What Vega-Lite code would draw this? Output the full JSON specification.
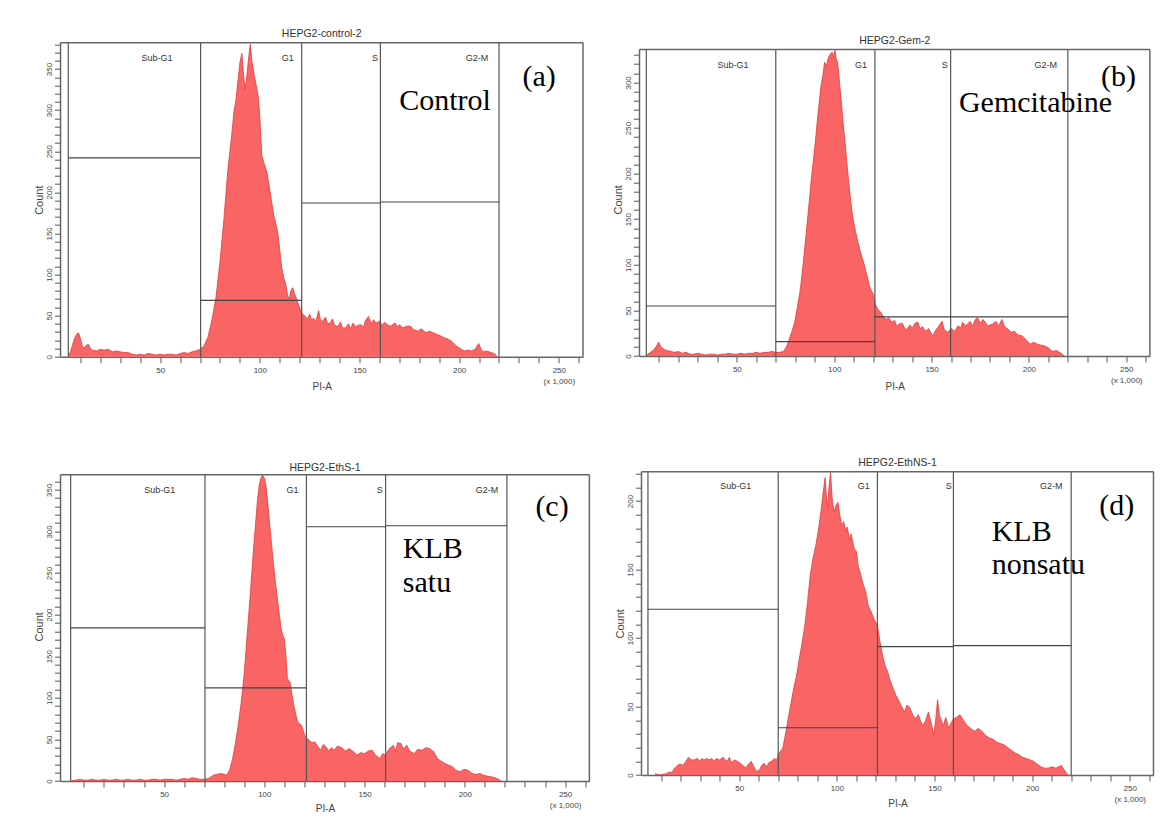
{
"$schema": "https://vega.github.io/schema/vega-lite/v6.json",
"background": "white",
"padding": {"left": 32.5, "top": 28.7, "right": 8, "bottom": 5},
"datasets": {
"hist": [
{"p":"a","x":4,"y":2},{"p":"a","x":5,"y":6},{"p":"a","x":6,"y":14},{"p":"a","x":7,"y":22},{"p":"a","x":8,"y":27},{"p":"a","x":9,"y":29},{"p":"a","x":10,"y":22},{"p":"a","x":11,"y":12},{"p":"a","x":12,"y":11},{"p":"a","x":13,"y":14},{"p":"a","x":14,"y":15},{"p":"a","x":15,"y":10},{"p":"a","x":16,"y":8},{"p":"a","x":18,"y":7},{"p":"a","x":20,"y":9},{"p":"a","x":22,"y":8},{"p":"a","x":24,"y":9},{"p":"a","x":26,"y":6},{"p":"a","x":28,"y":7},{"p":"a","x":30,"y":6},{"p":"a","x":32,"y":5},{"p":"a","x":34,"y":5},{"p":"a","x":36,"y":3},{"p":"a","x":38,"y":2},{"p":"a","x":40,"y":3},{"p":"a","x":42,"y":2},{"p":"a","x":44,"y":4},{"p":"a","x":46,"y":3},{"p":"a","x":48,"y":2},{"p":"a","x":50,"y":3},{"p":"a","x":52,"y":2},{"p":"a","x":54,"y":3},{"p":"a","x":56,"y":3},{"p":"a","x":58,"y":2},{"p":"a","x":60,"y":4},{"p":"a","x":62,"y":5},{"p":"a","x":64,"y":4},{"p":"a","x":66,"y":6},{"p":"a","x":68,"y":7},{"p":"a","x":70,"y":9},{"p":"a","x":72,"y":13},{"p":"a","x":74,"y":24},{"p":"a","x":76,"y":45},{"p":"a","x":78,"y":72},{"p":"a","x":80,"y":115},{"p":"a","x":82,"y":168},{"p":"a","x":84,"y":228},{"p":"a","x":86,"y":272},{"p":"a","x":87,"y":298},{"p":"a","x":88,"y":312},{"p":"a","x":89,"y":335},{"p":"a","x":90,"y":358},{"p":"a","x":91,"y":369},{"p":"a","x":92,"y":338},{"p":"a","x":92.6,"y":325},{"p":"a","x":93.5,"y":342},{"p":"a","x":94.5,"y":366},{"p":"a","x":95.2,"y":380},{"p":"a","x":96,"y":360},{"p":"a","x":97.3,"y":341},{"p":"a","x":98.5,"y":326},{"p":"a","x":99.3,"y":315},{"p":"a","x":100,"y":292},{"p":"a","x":101,"y":245},{"p":"a","x":102,"y":236},{"p":"a","x":103.6,"y":224},{"p":"a","x":105,"y":203},{"p":"a","x":106,"y":187},{"p":"a","x":107,"y":172},{"p":"a","x":108,"y":162},{"p":"a","x":109,"y":151},{"p":"a","x":110,"y":130},{"p":"a","x":111,"y":108},{"p":"a","x":112,"y":96},{"p":"a","x":113,"y":88},{"p":"a","x":114,"y":74},{"p":"a","x":114.8,"y":70},{"p":"a","x":115.5,"y":80},{"p":"a","x":116.5,"y":84},{"p":"a","x":117.5,"y":76},{"p":"a","x":118.5,"y":70},{"p":"a","x":119,"y":66},{"p":"a","x":120,"y":60},{"p":"a","x":120.7,"y":54},{"p":"a","x":122.3,"y":50},{"p":"a","x":124,"y":46},{"p":"a","x":125,"y":52},{"p":"a","x":126,"y":44},{"p":"a","x":127,"y":47},{"p":"a","x":128,"y":42},{"p":"a","x":129.5,"y":56},{"p":"a","x":130.5,"y":44},{"p":"a","x":131.4,"y":43},{"p":"a","x":133,"y":48},{"p":"a","x":134,"y":40},{"p":"a","x":135.3,"y":41},{"p":"a","x":136.5,"y":46},{"p":"a","x":137.5,"y":38},{"p":"a","x":139.1,"y":37},{"p":"a","x":140.5,"y":42},{"p":"a","x":141.5,"y":35},{"p":"a","x":143,"y":35},{"p":"a","x":144.5,"y":40},{"p":"a","x":145.5,"y":34},{"p":"a","x":146.8,"y":41},{"p":"a","x":148,"y":36},{"p":"a","x":149,"y":38},{"p":"a","x":150.6,"y":39},{"p":"a","x":152,"y":36},{"p":"a","x":153,"y":44},{"p":"a","x":154.5,"y":49},{"p":"a","x":156,"y":40},{"p":"a","x":157,"y":45},{"p":"a","x":158.3,"y":41},{"p":"a","x":160.2,"y":43},{"p":"a","x":161.5,"y":38},{"p":"a","x":162.5,"y":42},{"p":"a","x":164.1,"y":39},{"p":"a","x":165.5,"y":37},{"p":"a","x":167.9,"y":41},{"p":"a","x":169,"y":36},{"p":"a","x":170,"y":39},{"p":"a","x":171.8,"y":35},{"p":"a","x":173.5,"y":37},{"p":"a","x":175.6,"y":37},{"p":"a","x":177,"y":33},{"p":"a","x":179.4,"y":31},{"p":"a","x":181,"y":34},{"p":"a","x":183.3,"y":29},{"p":"a","x":185,"y":31},{"p":"a","x":187.1,"y":29},{"p":"a","x":189,"y":27},{"p":"a","x":191,"y":25},{"p":"a","x":192.5,"y":23},{"p":"a","x":194.8,"y":21},{"p":"a","x":196.5,"y":18},{"p":"a","x":198.6,"y":13},{"p":"a","x":200.5,"y":10},{"p":"a","x":202.5,"y":7},{"p":"a","x":204.5,"y":8},{"p":"a","x":206.3,"y":7},{"p":"a","x":208,"y":9},{"p":"a","x":209.8,"y":16},{"p":"a","x":211,"y":9},{"p":"a","x":212.1,"y":6},{"p":"a","x":214,"y":7},{"p":"a","x":215.9,"y":5},{"p":"a","x":217.5,"y":4},{"p":"a","x":218.8,"y":1},{"p":"a","x":219.2,"y":0},
{"p":"b","x":3.5,"y":1},{"p":"b","x":5,"y":3},{"p":"b","x":7,"y":6},{"p":"b","x":8.5,"y":10},{"p":"b","x":9.8,"y":15},{"p":"b","x":11,"y":10},{"p":"b","x":12.7,"y":7},{"p":"b","x":14,"y":6},{"p":"b","x":16,"y":5},{"p":"b","x":18,"y":4},{"p":"b","x":20,"y":5},{"p":"b","x":22,"y":3},{"p":"b","x":24,"y":4},{"p":"b","x":26,"y":2},{"p":"b","x":28,"y":2},{"p":"b","x":30,"y":3},{"p":"b","x":32,"y":2},{"p":"b","x":34,"y":1},{"p":"b","x":36,"y":2},{"p":"b","x":38,"y":2},{"p":"b","x":40,"y":1},{"p":"b","x":42,"y":2},{"p":"b","x":44,"y":2},{"p":"b","x":46,"y":3},{"p":"b","x":48,"y":2},{"p":"b","x":50,"y":2},{"p":"b","x":52,"y":3},{"p":"b","x":54,"y":2},{"p":"b","x":56,"y":3},{"p":"b","x":58,"y":3},{"p":"b","x":60,"y":4},{"p":"b","x":62,"y":3},{"p":"b","x":64,"y":4},{"p":"b","x":66,"y":4},{"p":"b","x":68,"y":5},{"p":"b","x":70,"y":4},{"p":"b","x":72,"y":4},{"p":"b","x":74,"y":5},{"p":"b","x":75.5,"y":10},{"p":"b","x":76.9,"y":18},{"p":"b","x":78.3,"y":27},{"p":"b","x":79.7,"y":37},{"p":"b","x":81,"y":52},{"p":"b","x":82.6,"y":73},{"p":"b","x":84,"y":100},{"p":"b","x":85.5,"y":132},{"p":"b","x":87,"y":165},{"p":"b","x":88.4,"y":197},{"p":"b","x":90.3,"y":234},{"p":"b","x":91.5,"y":262},{"p":"b","x":93.2,"y":296},{"p":"b","x":94,"y":305},{"p":"b","x":95.1,"y":322},{"p":"b","x":96,"y":318},{"p":"b","x":97,"y":327},{"p":"b","x":98,"y":331},{"p":"b","x":98.9,"y":333},{"p":"b","x":99.6,"y":328},{"p":"b","x":100.4,"y":335},{"p":"b","x":101,"y":326},{"p":"b","x":101.8,"y":322},{"p":"b","x":102.7,"y":300},{"p":"b","x":103.7,"y":278},{"p":"b","x":104.6,"y":255},{"p":"b","x":105.6,"y":234},{"p":"b","x":106.5,"y":212},{"p":"b","x":107.5,"y":190},{"p":"b","x":108.5,"y":170},{"p":"b","x":109.4,"y":154},{"p":"b","x":110.8,"y":138},{"p":"b","x":112.3,"y":124},{"p":"b","x":113.7,"y":112},{"p":"b","x":115.2,"y":102},{"p":"b","x":116.6,"y":90},{"p":"b","x":118.1,"y":77},{"p":"b","x":119,"y":72},{"p":"b","x":120,"y":68},{"p":"b","x":121,"y":58},{"p":"b","x":121.9,"y":53},{"p":"b","x":123,"y":50},{"p":"b","x":123.8,"y":48},{"p":"b","x":125,"y":44},{"p":"b","x":126.7,"y":40},{"p":"b","x":128,"y":42},{"p":"b","x":129.6,"y":37},{"p":"b","x":131,"y":39},{"p":"b","x":132,"y":33},{"p":"b","x":133.4,"y":35},{"p":"b","x":135,"y":36},{"p":"b","x":136,"y":31},{"p":"b","x":137.2,"y":29},{"p":"b","x":139,"y":34},{"p":"b","x":140,"y":30},{"p":"b","x":141.5,"y":36},{"p":"b","x":143,"y":37},{"p":"b","x":144,"y":30},{"p":"b","x":145.5,"y":32},{"p":"b","x":146.8,"y":27},{"p":"b","x":148.5,"y":30},{"p":"b","x":150.6,"y":22},{"p":"b","x":152,"y":28},{"p":"b","x":153.5,"y":32},{"p":"b","x":155.4,"y":38},{"p":"b","x":156.5,"y":29},{"p":"b","x":158.3,"y":26},{"p":"b","x":160,"y":30},{"p":"b","x":162.1,"y":27},{"p":"b","x":163.5,"y":33},{"p":"b","x":165,"y":31},{"p":"b","x":166,"y":37},{"p":"b","x":167.5,"y":33},{"p":"b","x":169.8,"y":38},{"p":"b","x":171,"y":33},{"p":"b","x":172.5,"y":40},{"p":"b","x":173.6,"y":42},{"p":"b","x":175,"y":36},{"p":"b","x":176.5,"y":40},{"p":"b","x":177.5,"y":37},{"p":"b","x":179,"y":33},{"p":"b","x":181.3,"y":35},{"p":"b","x":183,"y":38},{"p":"b","x":184.5,"y":33},{"p":"b","x":186.1,"y":40},{"p":"b","x":187.5,"y":32},{"p":"b","x":189,"y":30},{"p":"b","x":190.9,"y":26},{"p":"b","x":192.5,"y":27},{"p":"b","x":194.5,"y":23},{"p":"b","x":196.6,"y":22},{"p":"b","x":198.5,"y":18},{"p":"b","x":200.5,"y":13},{"p":"b","x":202.5,"y":15},{"p":"b","x":204.3,"y":13},{"p":"b","x":206,"y":12},{"p":"b","x":208.1,"y":11},{"p":"b","x":210,"y":9},{"p":"b","x":212,"y":5},{"p":"b","x":214,"y":6},{"p":"b","x":215.8,"y":4},{"p":"b","x":217.7,"y":1},{"p":"b","x":218.3,"y":0},
{"p":"c","x":3.5,"y":0},{"p":"c","x":6,"y":1},{"p":"c","x":8,"y":2},{"p":"c","x":10,"y":1},{"p":"c","x":12,"y":1},{"p":"c","x":14,"y":2},{"p":"c","x":16,"y":1},{"p":"c","x":18,"y":1},{"p":"c","x":20,"y":2},{"p":"c","x":22,"y":1},{"p":"c","x":24,"y":1},{"p":"c","x":26,"y":2},{"p":"c","x":28,"y":1},{"p":"c","x":30,"y":1},{"p":"c","x":32,"y":2},{"p":"c","x":34,"y":1},{"p":"c","x":36,"y":1},{"p":"c","x":38,"y":2},{"p":"c","x":40,"y":1},{"p":"c","x":42,"y":1},{"p":"c","x":44,"y":2},{"p":"c","x":46,"y":2},{"p":"c","x":48,"y":1},{"p":"c","x":50,"y":2},{"p":"c","x":52,"y":2},{"p":"c","x":54,"y":2},{"p":"c","x":56,"y":1},{"p":"c","x":58,"y":2},{"p":"c","x":60,"y":3},{"p":"c","x":62,"y":2},{"p":"c","x":64,"y":4},{"p":"c","x":66,"y":3},{"p":"c","x":68,"y":2},{"p":"c","x":70.4,"y":2},{"p":"c","x":72,"y":3},{"p":"c","x":73.5,"y":5},{"p":"c","x":74.6,"y":7},{"p":"c","x":76.5,"y":8},{"p":"c","x":78.5,"y":9},{"p":"c","x":80,"y":8},{"p":"c","x":81.3,"y":7},{"p":"c","x":82.8,"y":14},{"p":"c","x":84.2,"y":27},{"p":"c","x":85.5,"y":44},{"p":"c","x":87,"y":67},{"p":"c","x":88.5,"y":95},{"p":"c","x":89.9,"y":127},{"p":"c","x":90.8,"y":155},{"p":"c","x":91.8,"y":187},{"p":"c","x":92.8,"y":218},{"p":"c","x":93.7,"y":248},{"p":"c","x":94.6,"y":278},{"p":"c","x":95.6,"y":308},{"p":"c","x":96.5,"y":335},{"p":"c","x":97.5,"y":356},{"p":"c","x":98.3,"y":364},{"p":"c","x":99.1,"y":368},{"p":"c","x":100,"y":364},{"p":"c","x":100.8,"y":356},{"p":"c","x":101.8,"y":332},{"p":"c","x":102.7,"y":308},{"p":"c","x":103.6,"y":285},{"p":"c","x":104.6,"y":260},{"p":"c","x":105.5,"y":240},{"p":"c","x":106.5,"y":220},{"p":"c","x":107.5,"y":200},{"p":"c","x":108.4,"y":183},{"p":"c","x":109.2,"y":175},{"p":"c","x":110,"y":171},{"p":"c","x":110.8,"y":150},{"p":"c","x":111.5,"y":123},{"p":"c","x":112.8,"y":119},{"p":"c","x":113.8,"y":104},{"p":"c","x":114.7,"y":91},{"p":"c","x":115.7,"y":80},{"p":"c","x":116.6,"y":71},{"p":"c","x":117.5,"y":69},{"p":"c","x":118.5,"y":67},{"p":"c","x":119.5,"y":60},{"p":"c","x":120.4,"y":53},{"p":"c","x":121.4,"y":51},{"p":"c","x":122.4,"y":49},{"p":"c","x":123.8,"y":46},{"p":"c","x":125.2,"y":47},{"p":"c","x":126.5,"y":42},{"p":"c","x":128.1,"y":37},{"p":"c","x":129.5,"y":44},{"p":"c","x":130.9,"y":41},{"p":"c","x":132,"y":36},{"p":"c","x":133.5,"y":40},{"p":"c","x":134.8,"y":37},{"p":"c","x":136.5,"y":42},{"p":"c","x":138.6,"y":40},{"p":"c","x":140.5,"y":36},{"p":"c","x":142.4,"y":39},{"p":"c","x":144.5,"y":35},{"p":"c","x":146.2,"y":31},{"p":"c","x":148,"y":34},{"p":"c","x":150,"y":33},{"p":"c","x":152,"y":36},{"p":"c","x":153.8,"y":37},{"p":"c","x":155.5,"y":31},{"p":"c","x":157.7,"y":27},{"p":"c","x":159,"y":33},{"p":"c","x":160.5,"y":31},{"p":"c","x":162,"y":38},{"p":"c","x":164.3,"y":43},{"p":"c","x":165.5,"y":36},{"p":"c","x":166.5,"y":46},{"p":"c","x":168.2,"y":45},{"p":"c","x":169.5,"y":38},{"p":"c","x":171,"y":43},{"p":"c","x":172.5,"y":36},{"p":"c","x":174.8,"y":33},{"p":"c","x":176.5,"y":38},{"p":"c","x":178.7,"y":37},{"p":"c","x":180.5,"y":40},{"p":"c","x":182.5,"y":39},{"p":"c","x":184.5,"y":35},{"p":"c","x":186.3,"y":27},{"p":"c","x":188,"y":24},{"p":"c","x":190.1,"y":21},{"p":"c","x":192,"y":19},{"p":"c","x":193.9,"y":17},{"p":"c","x":195.5,"y":13},{"p":"c","x":197.7,"y":11},{"p":"c","x":199.5,"y":14},{"p":"c","x":201.6,"y":13},{"p":"c","x":203.5,"y":9},{"p":"c","x":205.4,"y":8},{"p":"c","x":207.5,"y":9},{"p":"c","x":209.2,"y":7},{"p":"c","x":211,"y":6},{"p":"c","x":213,"y":5},{"p":"c","x":215,"y":4},{"p":"c","x":216.8,"y":2},{"p":"c","x":218,"y":0},
{"p":"d","x":7,"y":1},{"p":"d","x":9,"y":0},{"p":"d","x":12.8,"y":1},{"p":"d","x":14,"y":2},{"p":"d","x":15.6,"y":2},{"p":"d","x":17,"y":5},{"p":"d","x":18.4,"y":7},{"p":"d","x":19.8,"y":8},{"p":"d","x":21.3,"y":7},{"p":"d","x":22.7,"y":10},{"p":"d","x":24.1,"y":13},{"p":"d","x":25.5,"y":11},{"p":"d","x":26.9,"y":11},{"p":"d","x":28.5,"y":12},{"p":"d","x":30,"y":10},{"p":"d","x":30.7,"y":12},{"p":"d","x":32,"y":11},{"p":"d","x":33.5,"y":12},{"p":"d","x":34.5,"y":11},{"p":"d","x":36,"y":12},{"p":"d","x":37,"y":10},{"p":"d","x":38.3,"y":12},{"p":"d","x":40,"y":11},{"p":"d","x":41.7,"y":13},{"p":"d","x":42.8,"y":11},{"p":"d","x":43.9,"y":10},{"p":"d","x":45,"y":13},{"p":"d","x":46,"y":9},{"p":"d","x":47.7,"y":11},{"p":"d","x":49,"y":10},{"p":"d","x":50.5,"y":8.5},{"p":"d","x":52,"y":7},{"p":"d","x":53.4,"y":5},{"p":"d","x":54.8,"y":8},{"p":"d","x":56.2,"y":10},{"p":"d","x":57.5,"y":6},{"p":"d","x":59,"y":2.5},{"p":"d","x":60.5,"y":4},{"p":"d","x":61.5,"y":7},{"p":"d","x":62.8,"y":8.5},{"p":"d","x":64,"y":6},{"p":"d","x":65.2,"y":9},{"p":"d","x":66.6,"y":10},{"p":"d","x":68,"y":12},{"p":"d","x":69.3,"y":11},{"p":"d","x":70,"y":15},{"p":"d","x":71,"y":17},{"p":"d","x":72.3,"y":19.5},{"p":"d","x":73.5,"y":28},{"p":"d","x":75.1,"y":41},{"p":"d","x":76.5,"y":52},{"p":"d","x":77.9,"y":63},{"p":"d","x":79.3,"y":72},{"p":"d","x":80.8,"y":85},{"p":"d","x":82.2,"y":96},{"p":"d","x":83.6,"y":109},{"p":"d","x":85,"y":126},{"p":"d","x":86.4,"y":146},{"p":"d","x":87.8,"y":158},{"p":"d","x":89.3,"y":168},{"p":"d","x":90.7,"y":180},{"p":"d","x":92.1,"y":195},{"p":"d","x":93,"y":206},{"p":"d","x":94,"y":217},{"p":"d","x":94.6,"y":205},{"p":"d","x":95.3,"y":195},{"p":"d","x":96,"y":210},{"p":"d","x":96.8,"y":221},{"p":"d","x":97.7,"y":200},{"p":"d","x":98.7,"y":192},{"p":"d","x":99.6,"y":197},{"p":"d","x":100.6,"y":199},{"p":"d","x":101.5,"y":190},{"p":"d","x":102.5,"y":182},{"p":"d","x":103.5,"y":185},{"p":"d","x":104.5,"y":178},{"p":"d","x":105.3,"y":181},{"p":"d","x":106.5,"y":172},{"p":"d","x":107.3,"y":176},{"p":"d","x":108.2,"y":170},{"p":"d","x":109,"y":165},{"p":"d","x":110.1,"y":163},{"p":"d","x":111,"y":152},{"p":"d","x":111.9,"y":148},{"p":"d","x":113.3,"y":140},{"p":"d","x":114.8,"y":134},{"p":"d","x":116,"y":124},{"p":"d","x":117.6,"y":119},{"p":"d","x":119,"y":114},{"p":"d","x":120.8,"y":109},{"p":"d","x":122,"y":98},{"p":"d","x":123.3,"y":88},{"p":"d","x":124.7,"y":80},{"p":"d","x":126.1,"y":75},{"p":"d","x":127.5,"y":68},{"p":"d","x":128.9,"y":63},{"p":"d","x":130.3,"y":58},{"p":"d","x":131.8,"y":54},{"p":"d","x":133.2,"y":50},{"p":"d","x":134.6,"y":46},{"p":"d","x":136,"y":51},{"p":"d","x":137.4,"y":49},{"p":"d","x":138.8,"y":44},{"p":"d","x":140.3,"y":41},{"p":"d","x":141.7,"y":44},{"p":"d","x":143,"y":39},{"p":"d","x":144.1,"y":36},{"p":"d","x":145.5,"y":40},{"p":"d","x":146.9,"y":46},{"p":"d","x":148.3,"y":38},{"p":"d","x":149.7,"y":29},{"p":"d","x":150.6,"y":40},{"p":"d","x":151.6,"y":55},{"p":"d","x":152.5,"y":44},{"p":"d","x":153.5,"y":40},{"p":"d","x":154.5,"y":36},{"p":"d","x":155.8,"y":42},{"p":"d","x":157.3,"y":34},{"p":"d","x":158.5,"y":38},{"p":"d","x":159.7,"y":41},{"p":"d","x":161.3,"y":42},{"p":"d","x":163,"y":44},{"p":"d","x":164.8,"y":40},{"p":"d","x":166.7,"y":36},{"p":"d","x":168.5,"y":34},{"p":"d","x":170.5,"y":32},{"p":"d","x":172.4,"y":34},{"p":"d","x":174.3,"y":32},{"p":"d","x":176,"y":29},{"p":"d","x":178.1,"y":27},{"p":"d","x":180,"y":26},{"p":"d","x":181.8,"y":24},{"p":"d","x":183.7,"y":23},{"p":"d","x":185.6,"y":22},{"p":"d","x":187.5,"y":20},{"p":"d","x":189.4,"y":18},{"p":"d","x":191.3,"y":16},{"p":"d","x":193.2,"y":15},{"p":"d","x":195,"y":13},{"p":"d","x":197,"y":12},{"p":"d","x":199,"y":11},{"p":"d","x":200.7,"y":10},{"p":"d","x":202.5,"y":8},{"p":"d","x":204.5,"y":6},{"p":"d","x":206.5,"y":5},{"p":"d","x":208.3,"y":5},{"p":"d","x":210,"y":6},{"p":"d","x":212.1,"y":5},{"p":"d","x":213.5,"y":6},{"p":"d","x":214.9,"y":7},{"p":"d","x":216.3,"y":4},{"p":"d","x":217.7,"y":1},{"p":"d","x":218.5,"y":0}
],
"gates": [
{"p":"a","g":"Sub-G1","lo":3.9,"hi":70.3,"h":242},{"p":"a","g":"G1","lo":70.3,"hi":121,"h":68.5},{"p":"a","g":"S","lo":121,"hi":160.5,"h":187},{"p":"a","g":"G2-M","lo":160.5,"hi":220,"h":188.2},
{"p":"b","g":"Sub-G1","lo":3.5,"hi":70,"h":54.8},{"p":"b","g":"G1","lo":70,"hi":120.9,"h":15.7},{"p":"b","g":"S","lo":120.9,"hi":159.8,"h":43},{"p":"b","g":"G2-M","lo":159.8,"hi":220,"h":43},
{"p":"c","g":"Sub-G1","lo":3.4,"hi":70.4,"h":184},{"p":"c","g":"G1","lo":70.4,"hi":121,"h":112},{"p":"c","g":"S","lo":121,"hi":160.5,"h":305.6},{"p":"c","g":"G2-M","lo":160.5,"hi":221,"h":306.8},
{"p":"d","g":"Sub-G1","lo":3.3,"hi":70,"h":121},{"p":"d","g":"G1","lo":70,"hi":120.8,"h":34.5},{"p":"d","g":"S","lo":120.8,"hi":159.7,"h":93.7},{"p":"d","g":"G2-M","lo":159.7,"hi":220,"h":94.4}
],
"vl": [
{"p":"a","x":3.9},{"p":"a","x":70.3},{"p":"a","x":121},{"p":"a","x":160.5},{"p":"a","x":220},
{"p":"b","x":3.5},{"p":"b","x":70},{"p":"b","x":120.9},{"p":"b","x":159.8},{"p":"b","x":220},
{"p":"c","x":3.4},{"p":"c","x":70.4},{"p":"c","x":121},{"p":"c","x":160.5},{"p":"c","x":221},
{"p":"d","x":3.3},{"p":"d","x":70},{"p":"d","x":120.8},{"p":"d","x":159.7},{"p":"d","x":220}
],
"labels": [
{"p":"a","t":"Sub-G1","x":48.4,"y":360},{"p":"a","t":"G1","x":114,"y":360},{"p":"a","t":"S","x":157.8,"y":360},{"p":"a","t":"G2-M","x":209,"y":360},
{"p":"b","t":"Sub-G1","x":48,"y":315.9},{"p":"b","t":"G1","x":113.8,"y":315.9},{"p":"b","t":"S","x":156.8,"y":315.9},{"p":"b","t":"G2-M","x":208.7,"y":315.9},
{"p":"c","t":"Sub-G1","x":47.9,"y":345.9},{"p":"c","t":"G1","x":114.1,"y":345.9},{"p":"c","t":"S","x":157.6,"y":345.9},{"p":"c","t":"G2-M","x":211.1,"y":345.9},
{"p":"d","t":"Sub-G1","x":48.3,"y":208.6},{"p":"d","t":"G1","x":113.8,"y":208.6},{"p":"d","t":"S","x":157.3,"y":208.6},{"p":"d","t":"G2-M","x":209.8,"y":208.6}
],
"notes": [
{"p":"a","al":"c","t":"(a)","x":240.1,"y":329.7},{"p":"a","al":"c","t":"Control","x":192.9,"y":300.1},
{"p":"b","al":"c","t":"(b)","x":246,"y":296},{"p":"b","al":"c","t":"Gemcitabine","x":203.4,"y":267.5},
{"p":"c","al":"c","t":"(c)","x":243.5,"y":318.9},{"p":"c","al":"l","t":"KLB","x":169.1,"y":267.7},{"p":"c","al":"l","t":"satu","x":169.1,"y":227.5},
{"p":"d","al":"c","t":"(d)","x":243.3,"y":189.8},{"p":"d","al":"l","t":"KLB","x":179.3,"y":170.8},{"p":"d","al":"l","t":"nonsatu","x":179.3,"y":146.5}
]
},
"spacing": 66,
"vconcat": [
{"hconcat": [
{"width": 522.5, "height": 314,
 "title": {"text": "HEPG2-control-2", "offset": 2.25},
 "layer": [
  {"data": {"name": "hist"}, "transform": [{"filter": "datum.p == 'a'"}],
   "mark": {"type": "area", "fill": "#F96464", "opacity": 1, "fillOpacity": 1, "line": {"color": "#E03C3C", "strokeWidth": 0.8}},
   "encoding": {
    "x": {"field": "x", "type": "quantitative", "scale": {"domain": [0, 262.144], "nice": false, "zero": false},
      "axis": {"title": "PI-A", "titleY": 32.9, "format": "d", "tickCount": 500, "labelOverlap": false, "labelFlush": false, "values": [10,20,30,40,50,60,70,80,90,100,110,120,130,140,150,160,170,180,190,200,210,220,230,240,250,260],
        "labelExpr": "datum.value == 250 ? ['250', '(x 1,000)'] : (datum.value % 50 == 0 ? datum.label : '')"}},
    "y": {"field": "y", "type": "quantitative", "scale": {"domain": [0, 382], "nice": false},
      "axis": {"title": "Count", "format": "d", "tickCount": 500, "labelOverlap": false, "labelFlush": false, "values": [0,10,20,30,40,50,60,70,80,90,100,110,120,130,140,150,160,170,180,190,200,210,220,230,240,250,260,270,280,290,300,310,320,330,340,350,360,370,380],
        "labelExpr": "datum.value % 50 == 0 ? datum.label : ''"}}}},
  {"data": {"name": "vl"}, "transform": [{"filter": "datum.p == 'a'"}], "mark": {"type": "rule", "color": "#555", "strokeWidth": 1.2},
   "encoding": {"x": {"field": "x", "type": "quantitative"}, "y": {"datum": 0}, "y2": {"datum": 382}}},
  {"data": {"name": "gates"}, "transform": [{"filter": "datum.p == 'a'"}], "mark": {"type": "rule", "color": "#444", "strokeWidth": 1.2},
   "encoding": {"x": {"field": "lo", "type": "quantitative"}, "x2": {"field": "hi"}, "y": {"field": "h", "type": "quantitative"}}},
  {"data": {"values": [{}]}, "mark": {"type": "rule", "color": "#666", "strokeWidth": 1.5},
   "encoding": {"x": {"datum": 0}, "x2": {"datum": 262.144}, "y": {"datum": 382}}},
  {"data": {"values": [{}]}, "mark": {"type": "rule", "color": "#666", "strokeWidth": 1.5},
   "encoding": {"x": {"datum": 0}, "y": {"datum": 0}, "y2": {"datum": 382}}},
  {"data": {"values": [{}]}, "mark": {"type": "rule", "color": "#666", "strokeWidth": 1.5},
   "encoding": {"x": {"datum": 262.144}, "y": {"datum": 0}, "y2": {"datum": 382}}},
  {"data": {"name": "labels"}, "transform": [{"filter": "datum.p == 'a'"}], "mark": {"type": "text", "fontSize": 9, "color": "#333", "baseline": "alphabetic", "align": "center"},
   "encoding": {"x": {"field": "x", "type": "quantitative"}, "y": {"field": "y", "type": "quantitative"}, "text": {"field": "t"}}},
  {"data": {"name": "notes"}, "transform": [{"filter": "datum.p == 'a' && datum.al == 'c'"}], "mark": {"type": "text", "font": "Liberation Serif", "fontSize": 30, "color": "#000", "baseline": "alphabetic", "align": "center"},
   "encoding": {"x": {"field": "x", "type": "quantitative"}, "y": {"field": "y", "type": "quantitative"}, "text": {"field": "t"}}}
 ]},
{"width": 510.4, "height": 313.3,
 "title": {"text": "HEPG2-Gem-2", "offset": -3.8},
 "layer": [
  {"data": {"name": "hist"}, "transform": [{"filter": "datum.p == 'b'"}],
   "mark": {"type": "area", "fill": "#F96464", "opacity": 1, "fillOpacity": 1, "line": {"color": "#E03C3C", "strokeWidth": 0.8}},
   "encoding": {
    "x": {"field": "x", "type": "quantitative", "scale": {"domain": [0, 262.144], "nice": false, "zero": false},
      "axis": {"title": "PI-A", "titleY": 33.6, "format": "d", "tickCount": 500, "labelOverlap": false, "labelFlush": false, "values": [10,20,30,40,50,60,70,80,90,100,110,120,130,140,150,160,170,180,190,200,210,220,230,240,250,260],
        "labelExpr": "datum.value == 250 ? ['250', '(x 1,000)'] : (datum.value % 50 == 0 ? datum.label : '')"}},
    "y": {"field": "y", "type": "quantitative", "scale": {"domain": [0, 343.5], "nice": false},
      "axis": {"title": "Count", "format": "d", "tickCount": 500, "labelOverlap": false, "labelFlush": false, "values": [0,10,20,30,40,50,60,70,80,90,100,110,120,130,140,150,160,170,180,190,200,210,220,230,240,250,260,270,280,290,300,310,320,330],
        "labelExpr": "datum.value % 50 == 0 ? datum.label : ''"}}}},
  {"data": {"name": "vl"}, "transform": [{"filter": "datum.p == 'b'"}], "mark": {"type": "rule", "color": "#555", "strokeWidth": 1.2},
   "encoding": {"x": {"field": "x", "type": "quantitative"}, "y": {"datum": 0}, "y2": {"datum": 336}}},
  {"data": {"name": "gates"}, "transform": [{"filter": "datum.p == 'b'"}], "mark": {"type": "rule", "color": "#444", "strokeWidth": 1.2},
   "encoding": {"x": {"field": "lo", "type": "quantitative"}, "x2": {"field": "hi"}, "y": {"field": "h", "type": "quantitative"}}},
  {"data": {"values": [{}]}, "mark": {"type": "rule", "color": "#666", "strokeWidth": 1.5},
   "encoding": {"x": {"datum": 0}, "x2": {"datum": 262.144}, "y": {"datum": 336}}},
  {"data": {"values": [{}]}, "mark": {"type": "rule", "color": "#666", "strokeWidth": 1.5},
   "encoding": {"x": {"datum": 0}, "y": {"datum": 0}, "y2": {"datum": 336}}},
  {"data": {"values": [{}]}, "mark": {"type": "rule", "color": "#666", "strokeWidth": 1.5},
   "encoding": {"x": {"datum": 262.144}, "y": {"datum": 0}, "y2": {"datum": 336}}},
  {"data": {"name": "labels"}, "transform": [{"filter": "datum.p == 'b'"}], "mark": {"type": "text", "fontSize": 9, "color": "#333", "baseline": "alphabetic", "align": "center"},
   "encoding": {"x": {"field": "x", "type": "quantitative"}, "y": {"field": "y", "type": "quantitative"}, "text": {"field": "t"}}},
  {"data": {"name": "notes"}, "transform": [{"filter": "datum.p == 'b' && datum.al == 'c'"}], "mark": {"type": "text", "font": "Liberation Serif", "fontSize": 30, "color": "#000", "baseline": "alphabetic", "align": "center"},
   "encoding": {"x": {"field": "x", "type": "quantitative"}, "y": {"field": "y", "type": "quantitative"}, "text": {"field": "t"}}}
 ]}
], "spacing": 27},
{"hconcat": [
{"width": 528.9, "height": 309.3,
 "title": {"text": "HEPG2-EthS-1", "offset": -2.1},
 "layer": [
  {"data": {"name": "hist"}, "transform": [{"filter": "datum.p == 'c'"}],
   "mark": {"type": "area", "fill": "#F96464", "opacity": 1, "fillOpacity": 1, "line": {"color": "#E03C3C", "strokeWidth": 0.8}},
   "encoding": {
    "x": {"field": "x", "type": "quantitative", "scale": {"domain": [-1.65, 262.144], "nice": false, "zero": false},
      "axis": {"title": "PI-A", "titleY": 30.9, "format": "d", "tickCount": 500, "labelOverlap": false, "labelFlush": false, "values": [10,20,30,40,50,60,70,80,90,100,110,120,130,140,150,160,170,180,190,200,210,220,230,240,250,260],
        "labelExpr": "datum.value == 250 ? ['250', '(x 1,000)'] : (datum.value % 50 == 0 ? datum.label : '')"}},
    "y": {"field": "y", "type": "quantitative", "scale": {"domain": [0, 371.8], "nice": false},
      "axis": {"title": "Count", "format": "d", "tickCount": 500, "labelOverlap": false, "labelFlush": false, "values": [0,10,20,30,40,50,60,70,80,90,100,110,120,130,140,150,160,170,180,190,200,210,220,230,240,250,260,270,280,290,300,310,320,330,340,350,360],
        "labelExpr": "datum.value % 50 == 0 ? datum.label : ''"}}}},
  {"data": {"name": "vl"}, "transform": [{"filter": "datum.p == 'c'"}], "mark": {"type": "rule", "color": "#555", "strokeWidth": 1.2},
   "encoding": {"x": {"field": "x", "type": "quantitative"}, "y": {"datum": 0}, "y2": {"datum": 368}}},
  {"data": {"name": "gates"}, "transform": [{"filter": "datum.p == 'c'"}], "mark": {"type": "rule", "color": "#444", "strokeWidth": 1.2},
   "encoding": {"x": {"field": "lo", "type": "quantitative"}, "x2": {"field": "hi"}, "y": {"field": "h", "type": "quantitative"}}},
  {"data": {"values": [{}]}, "mark": {"type": "rule", "color": "#666", "strokeWidth": 1.5},
   "encoding": {"x": {"datum": -1.65}, "x2": {"datum": 262.144}, "y": {"datum": 368}}},
  {"data": {"values": [{}]}, "mark": {"type": "rule", "color": "#666", "strokeWidth": 1.5},
   "encoding": {"x": {"datum": -1.65}, "y": {"datum": 0}, "y2": {"datum": 368}}},
  {"data": {"values": [{}]}, "mark": {"type": "rule", "color": "#666", "strokeWidth": 1.5},
   "encoding": {"x": {"datum": 262.144}, "y": {"datum": 0}, "y2": {"datum": 368}}},
  {"data": {"name": "labels"}, "transform": [{"filter": "datum.p == 'c'"}], "mark": {"type": "text", "fontSize": 9, "color": "#333", "baseline": "alphabetic", "align": "center"},
   "encoding": {"x": {"field": "x", "type": "quantitative"}, "y": {"field": "y", "type": "quantitative"}, "text": {"field": "t"}}},
  {"data": {"name": "notes"}, "transform": [{"filter": "datum.p == 'c' && datum.al == 'c'"}], "mark": {"type": "text", "font": "Liberation Serif", "fontSize": 30, "color": "#000", "baseline": "alphabetic", "align": "center"},
   "encoding": {"x": {"field": "x", "type": "quantitative"}, "y": {"field": "y", "type": "quantitative"}, "text": {"field": "t"}}},
  {"data": {"name": "notes"}, "transform": [{"filter": "datum.p == 'c' && datum.al == 'l'"}], "mark": {"type": "text", "font": "Liberation Serif", "fontSize": 30, "color": "#000", "baseline": "alphabetic", "align": "left"},
   "encoding": {"x": {"field": "x", "type": "quantitative"}, "y": {"field": "y", "type": "quantitative"}, "text": {"field": "t"}}}
 ]},
{"width": 512, "height": 303.3,
 "title": {"text": "HEPG2-EthNS-1", "offset": 2.15},
 "layer": [
  {"data": {"name": "hist"}, "transform": [{"filter": "datum.p == 'd'"}],
   "mark": {"type": "area", "fill": "#F96464", "opacity": 1, "fillOpacity": 1, "line": {"color": "#E03C3C", "strokeWidth": 0.8}},
   "encoding": {
    "x": {"field": "x", "type": "quantitative", "scale": {"domain": [0, 262.144], "nice": false, "zero": false},
      "axis": {"title": "PI-A", "titleY": 31.9, "format": "d", "tickCount": 500, "labelOverlap": false, "labelFlush": false, "values": [10,20,30,40,50,60,70,80,90,100,110,120,130,140,150,160,170,180,190,200,210,220,230,240,250,260],
        "labelExpr": "datum.value == 250 ? ['250', '(x 1,000)'] : (datum.value % 50 == 0 ? datum.label : '')"}},
    "y": {"field": "y", "type": "quantitative", "scale": {"domain": [0, 221.4], "nice": false},
      "axis": {"title": "Count", "format": "d", "tickCount": 500, "labelOverlap": false, "labelFlush": false, "values": [0,10,20,30,40,50,60,70,80,90,100,110,120,130,140,150,160,170,180,190,200,210,220],
        "labelExpr": "datum.value % 50 == 0 ? datum.label : ''"}}}},
  {"data": {"name": "vl"}, "transform": [{"filter": "datum.p == 'd'"}], "mark": {"type": "rule", "color": "#555", "strokeWidth": 1.2},
   "encoding": {"x": {"field": "x", "type": "quantitative"}, "y": {"datum": 0}, "y2": {"datum": 221.4}}},
  {"data": {"name": "gates"}, "transform": [{"filter": "datum.p == 'd'"}], "mark": {"type": "rule", "color": "#444", "strokeWidth": 1.2},
   "encoding": {"x": {"field": "lo", "type": "quantitative"}, "x2": {"field": "hi"}, "y": {"field": "h", "type": "quantitative"}}},
  {"data": {"values": [{}]}, "mark": {"type": "rule", "color": "#666", "strokeWidth": 1.5},
   "encoding": {"x": {"datum": 0}, "x2": {"datum": 262.144}, "y": {"datum": 221.4}}},
  {"data": {"values": [{}]}, "mark": {"type": "rule", "color": "#666", "strokeWidth": 1.5},
   "encoding": {"x": {"datum": 0}, "y": {"datum": 0}, "y2": {"datum": 221.4}}},
  {"data": {"values": [{}]}, "mark": {"type": "rule", "color": "#666", "strokeWidth": 1.5},
   "encoding": {"x": {"datum": 262.144}, "y": {"datum": 0}, "y2": {"datum": 221.4}}},
  {"data": {"name": "labels"}, "transform": [{"filter": "datum.p == 'd'"}], "mark": {"type": "text", "fontSize": 9, "color": "#333", "baseline": "alphabetic", "align": "center"},
   "encoding": {"x": {"field": "x", "type": "quantitative"}, "y": {"field": "y", "type": "quantitative"}, "text": {"field": "t"}}},
  {"data": {"name": "notes"}, "transform": [{"filter": "datum.p == 'd' && datum.al == 'c'"}], "mark": {"type": "text", "font": "Liberation Serif", "fontSize": 30, "color": "#000", "baseline": "alphabetic", "align": "center"},
   "encoding": {"x": {"field": "x", "type": "quantitative"}, "y": {"field": "y", "type": "quantitative"}, "text": {"field": "t"}}},
  {"data": {"name": "notes"}, "transform": [{"filter": "datum.p == 'd' && datum.al == 'l'"}], "mark": {"type": "text", "font": "Liberation Serif", "fontSize": 30, "color": "#000", "baseline": "alphabetic", "align": "left"},
   "encoding": {"x": {"field": "x", "type": "quantitative"}, "y": {"field": "y", "type": "quantitative"}, "text": {"field": "t"}}}
 ]}
], "spacing": 23}
],
"config": {
 "view": {"stroke": null},
 "font": "Liberation Sans",
 "title": {"fontSize": 10.5, "fontWeight": "normal", "color": "#333", "font": "Liberation Sans", "baseline": "alphabetic"},
 "axis": {"grid": false, "labelFont": "Liberation Sans", "titleFont": "Liberation Sans", "labelColor": "#444", "titleColor": "#444", "tickColor": "#555", "labelFontSize": 8, "titleFontWeight": "normal"},
 "axisX": {"domainColor": "#666", "domainWidth": 1.5, "tickSize": 6, "labelPadding": 4, "labelLineHeight": 11, "titleFontSize": 10, "titleBaseline": "alphabetic", "labelBaseline": "top"},
 "axisY": {"domain": false, "tickSize": 6, "labelPadding": 1, "labelAngle": 270, "labelAlign": "center", "labelBaseline": "bottom", "titleFontSize": 11, "titlePadding": 1},
 "text": {"font": "Liberation Sans"}
}
}
